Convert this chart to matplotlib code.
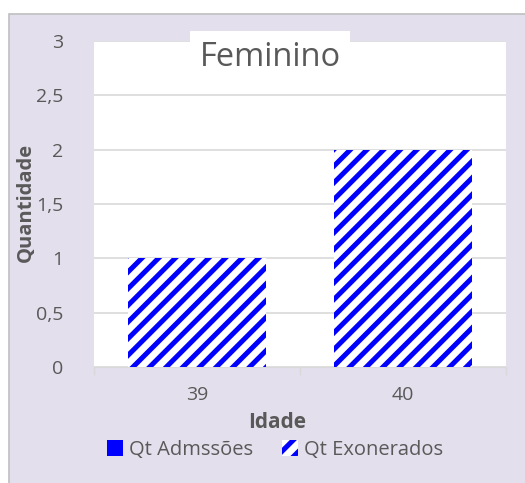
import matplotlib.pyplot as plt
from matplotlib.patches import Patch, Rectangle

plt.rcParams['font.family'] = ['Open Sans', 'DejaVu Sans']
plt.rcParams['hatch.linewidth'] = 3.6

# data
idades = ['39', '40']
admissoes = [0, 0]
exonerados = [1, 2]
yticks = [0, 0.5, 1, 1.5, 2, 2.5, 3]
ytick_labels = ['0', '0,5', '1', '1,5', '2', '2,5', '3']

txt = '#595959'
grid = '#D9D9D9'
lav = '#E4DFEC'
W, H = 525, 483

fig = plt.figure(figsize=(5.25, 4.83), dpi=100, facecolor='white')

# lavender chart area with gray border on left/top
fig.patches.append(Rectangle((9 / W, -0.2), 1.5, 1 - 14 / H + 0.2,
                             transform=fig.transFigure, facecolor=lav,
                             edgecolor='#BFBFBF', linewidth=1.2, zorder=-5))

ax = fig.add_axes([94 / W, 1 - 367 / H, (506 - 94) / W, (367 - 41) / H])
ax.set_facecolor('white')

x = list(range(len(idades)))
ax.bar(x, admissoes, width=0.667, color='blue', linewidth=0)
ax.bar(x, exonerados, width=0.667, color='white', edgecolor='blue',
       hatch='//', linewidth=0, zorder=3)

ax.set_xlim(-0.5, 1.5)
ax.set_ylim(0, 3)
ax.set_yticks(yticks)
ax.set_yticklabels(ytick_labels)
ax.set_xticks(x)
ax.set_xticklabels(idades)
ax.set_xticks([-0.5, 0.5, 1.5], minor=True)
ax.tick_params(axis='x', which='major', length=0, pad=14, labelsize=14, labelcolor=txt)
ax.tick_params(axis='x', which='minor', length=6, color=grid, width=1)
ax.tick_params(axis='y', length=0, pad=22, labelsize=14, labelcolor=txt)
ax.yaxis.grid(True, color=grid, linewidth=1.2)
ax.set_axisbelow(True)
for s in ['top', 'right', 'left']:
    ax.spines[s].set_visible(False)
ax.spines['bottom'].set_color(grid)

fig.text(26 / W, 1 - 202 / H, 'Quantidade', rotation=90, ha='center', va='center',
         fontsize=14.5, fontweight='bold', color=txt)
fig.text(277 / W, 1 - 423 / H, 'Idade', ha='center', va='center',
         fontsize=15, fontweight='bold', color=txt)

fig.text(270 / W, 1 - 57 / H, 'Feminino', ha='center', va='center', fontsize=23.5,
         color=txt, bbox=dict(facecolor='white', edgecolor='none', pad=7))

handles = [Patch(facecolor='blue', linewidth=0),
           Patch(facecolor='white', edgecolor='blue', hatch='//', linewidth=0)]
fig.legend(handles, ['Qt Admssões', 'Qt Exonerados'], loc='center',
           bbox_to_anchor=(275 / W, 1 - 450 / H), ncol=2, frameon=False,
           fontsize=14.5, labelcolor=txt, handlelength=0.8, handleheight=0.8,
           handletextpad=0.3, columnspacing=1.4)

fig.savefig('out.png', dpi=100, facecolor='white')
